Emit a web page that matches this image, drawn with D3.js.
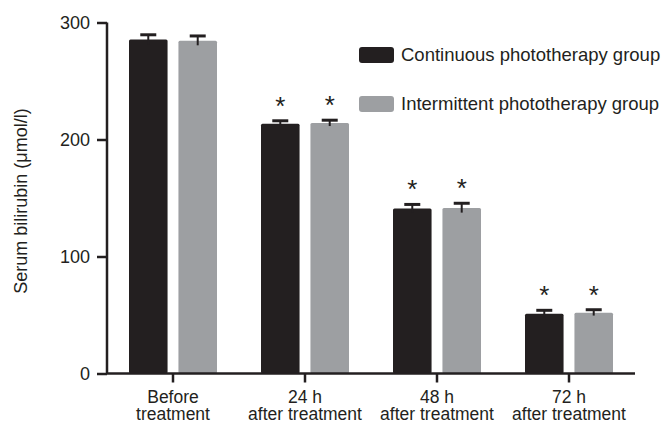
<!DOCTYPE html>
<html>
<head>
<meta charset="utf-8">
<script src="https://cdn.jsdelivr.net/npm/d3@7"></script>
<style>
  html, body { margin: 0; padding: 0; background: #fff; overflow: hidden; }
  svg { display: block; font-family: "Liberation Sans", Arial, sans-serif; }
</style>
</head>
<body>
<svg id="chart" width="665" height="422"></svg>
<script>
// ---- Data ----
const categories = ["Before\ntreatment", "24 h\nafter treatment", "48 h\nafter treatment", "72 h\nafter treatment"];
const seriesNames = ["Continuous phototherapy group", "Intermittent phototherapy group"];
const continuousValues = [285.5, 213.5, 141, 51];
const continuousErrors = [4, 2.5, 3.5, 3];
const intermittentValues = [284.5, 214, 141.5, 52];
const intermittentErrors = [4, 2.5, 4, 2.5];
const significant = [false, true, true, true];
const yTicks = [0, 100, 200, 300];
const yLabel = "Serum bilirubin (μmol/l)";

const colors = ["#231f20", "#9d9fa2"];
const series = [
  { name: seriesNames[0], values: continuousValues, errors: continuousErrors },
  { name: seriesNames[1], values: intermittentValues, errors: intermittentErrors }
];

const svg = d3.select("#chart");
const axisColor = "#231f20";

const x0 = d3.scaleBand().domain(categories).range([107, 635]).padding(0);
const x1 = d3.scaleBand().domain(seriesNames).range([-44, 44]).paddingInner(0.22);
const y = d3.scaleLinear().domain([0, 300]).range([373.5, 22.5]);

// Bars
categories.forEach((c, i) => {
  const cx = x0(c) + x0.bandwidth() / 2;
  series.forEach((s, j) => {
    const v = s.values[i], e = s.errors[i];
    const bx = cx + x1(s.name);
    const bw = x1.bandwidth();
    svg.append("rect")
      .attr("x", bx).attr("y", y(v))
      .attr("width", bw).attr("height", y(0) - y(v))
      .attr("rx", 1.5)
      .attr("fill", colors[j]);
    const mx = bx + bw / 2;
    svg.append("line")
      .attr("x1", mx).attr("x2", mx)
      .attr("y1", y(v - e)).attr("y2", y(v + e))
      .attr("stroke", axisColor).attr("stroke-width", 2);
    svg.append("line")
      .attr("x1", mx - 8).attr("x2", mx + 8)
      .attr("y1", y(v + e)).attr("y2", y(v + e))
      .attr("stroke", axisColor).attr("stroke-width", 3);
    if (significant[i]) {
      svg.append("text")
        .attr("x", mx).attr("y", y(v + e) - 20 + 14)
        .attr("text-anchor", "middle")
        .attr("font-size", 26)
        .attr("fill", axisColor)
        .text("*");
    }
  });
});

// Y axis
const yAxis = d3.axisLeft(y).tickValues(yTicks).tickSize(10).tickPadding(7).tickFormat(d3.format("d"));
const gy = svg.append("g").attr("transform", "translate(107,0)").call(yAxis);
gy.select(".domain").attr("stroke", axisColor).attr("stroke-width", 2.5).attr("d", `M0,${y(300)}V${y(0)}`);
gy.selectAll(".tick line").attr("stroke", axisColor).attr("stroke-width", 2.5);
gy.selectAll(".tick text").attr("font-size", 18).attr("fill", "#231f20")
  .attr("font-family", "Liberation Sans, Arial, sans-serif");

// X axis
const xAxis = d3.axisBottom(x0).tickSize(9).tickFormat("");
const gx = svg.append("g").attr("transform", `translate(0,${y(0)})`).call(xAxis);
gx.select(".domain").attr("stroke", axisColor).attr("stroke-width", 2.5).attr("d", `M107,0H635`);
gx.selectAll(".tick line").attr("stroke", axisColor).attr("stroke-width", 2.5);
gx.selectAll(".tick").each(function(d) {
  const lines = d.split("\n");
  const t = d3.select(this).append("text")
    .attr("text-anchor", "middle")
    .attr("font-size", 17.5)
    .attr("fill", "#231f20")
    .attr("font-family", "Liberation Sans, Arial, sans-serif");
  lines.forEach((ln, k) => {
    t.append("tspan").attr("x", 0).attr("y", 29 + k * 17).text(ln);
  });
});

// Y label
svg.append("text")
  .attr("transform", "translate(27,201) rotate(-90)")
  .attr("text-anchor", "middle")
  .attr("font-size", 18)
  .attr("fill", "#231f20")
  .text(yLabel);

// Legend
const legend = svg.append("g");
seriesNames.forEach((n, j) => {
  const ly = 47 + j * 49;
  legend.append("rect")
    .attr("x", 359).attr("y", ly).attr("width", 35).attr("height", 16)
    .attr("rx", 3).attr("fill", colors[j]);
  legend.append("text")
    .attr("x", 401).attr("y", ly + 8)
    .attr("dy", "0.35em")
    .attr("font-size", 18.5)
    .attr("fill", "#231f20")
    .text(n);
});
</script>
</body>
</html>
